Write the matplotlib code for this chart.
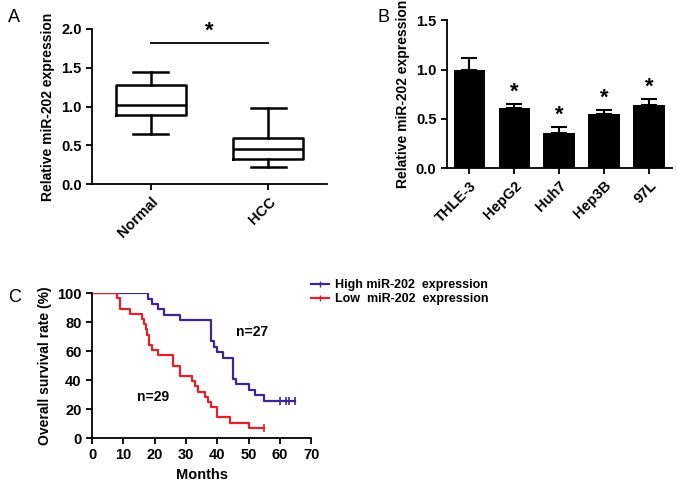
import matplotlib.pyplot as plt
from matplotlib.lines import Line2D

plt.rcParams['font.family'] = ['Liberation Sans', 'DejaVu Sans']
plt.rcParams['font.weight'] = 'bold'
plt.rcParams['axes.labelweight'] = 'bold'
plt.rcParams['axes.linewidth'] = 1.3

# panel A: box plot
box_groups = ['Normal', 'HCC']
box_low = [0.65, 0.22]
box_q1 = [0.89, 0.32]
box_med = [1.02, 0.45]
box_q3 = [1.28, 0.59]
box_high = [1.45, 0.98]

# panel B: bar chart
cell_lines = ['THLE-3', 'HepG2', 'Huh7', 'Hep3B', '97L']
cell_expr = [1.00, 0.61, 0.36, 0.55, 0.64]
cell_err = [0.12, 0.04, 0.06, 0.04, 0.06]
cell_sig = [False, True, True, True, True]

# panel C: survival curves
high_t = [0, 18, 19, 21, 23, 28, 38, 39, 40, 42, 45, 46, 50, 52, 55, 65]
high_s = [100, 96.3, 92.6, 88.9, 85.2, 81.5, 66.7, 63.0, 59.3, 55.6, 40.7, 37.0, 33.3, 29.6, 25.9, 25.9]
high_cens = [60, 62, 63, 65]
low_t = [0, 8, 9, 12, 16, 16.6, 17.2, 17.7, 18.2, 19, 21, 26, 28, 32, 33, 34, 36, 37, 38, 40, 44, 50, 55]
low_s = [100, 96.4, 89.3, 85.7, 82.1, 78.6, 75.0, 71.4, 64.3, 60.7, 57.1, 50.0, 42.9, 39.3, 35.7, 32.1,
         28.6, 25.0, 21.4, 14.3, 10.7, 7.1, 7.1]
low_cens = [55]

fig = plt.figure(figsize=(6.77, 4.83), dpi=100)

def style(ax):
    ax.spines['top'].set_visible(False)
    ax.spines['right'].set_visible(False)
    ax.tick_params(width=1.3, length=4, labelsize=10.5)

# ---- A
axA = fig.add_axes([0.136, 0.619, 0.347, 0.321])
stats = []
for i in range(len(box_groups)):
    stats.append(dict(med=box_med[i], q1=box_q1[i], q3=box_q3[i],
                      whislo=box_low[i], whishi=box_high[i], label=box_groups[i]))
lp = dict(color='black', linewidth=1.8)
axA.bxp(stats, positions=[1, 2], widths=0.6, showfliers=False,
        boxprops=lp, whiskerprops=lp, capprops=lp, medianprops=lp)
axA.set_xlim(0.5, 2.5)
axA.set_ylim(0, 2.0)
axA.set_yticks([0, 0.5, 1.0, 1.5, 2.0])
axA.set_yticklabels(['0.0', '0.5', '1.0', '1.5', '2.0'])
axA.set_xticks([1, 2])
axA.set_xticklabels(box_groups, rotation=45, ha='right', rotation_mode='anchor')
axA.set_ylabel('Relative miR-202 expression', fontsize=10)
axA.plot([1, 2], [1.82, 1.82], color='black', lw=1.3)
axA.text(1.5, 1.83, '*', ha='center', va='bottom', fontsize=16)
style(axA)
fig.text(0.012, 0.955, 'A', fontsize=13, fontweight='normal')

# ---- B
axB = fig.add_axes([0.660, 0.652, 0.332, 0.306])
xb = list(range(len(cell_lines)))
axB.bar(xb, cell_expr, width=0.7, color='black')
axB.errorbar(xb, cell_expr, yerr=[[0] * len(cell_err), cell_err], fmt='none',
             ecolor='black', elinewidth=1.5, capsize=6, capthick=1.5)
for i in xb:
    if cell_sig[i]:
        axB.text(i, cell_expr[i] + cell_err[i] + 0.01, '*', ha='center', va='bottom', fontsize=16)
axB.set_xlim(-0.5, 4.5)
axB.set_ylim(0, 1.5)
axB.set_yticks([0, 0.5, 1.0, 1.5])
axB.set_yticklabels(['0.0', '0.5', '1.0', '1.5'])
axB.set_xticks(xb)
axB.set_xticklabels(cell_lines, rotation=45, ha='right', rotation_mode='anchor')
axB.set_ylabel('Relative miR-202 expression', fontsize=10)
style(axB)
fig.text(0.558, 0.955, 'B', fontsize=13, fontweight='normal')

# ---- C
axC = fig.add_axes([0.136, 0.093, 0.3235, 0.300])
high_col = '#3d2596'
low_col = '#e5202a'
axC.step(high_t, high_s, where='post', color=high_col, lw=1.6)
axC.step(low_t, low_s, where='post', color=low_col, lw=1.6)
axC.plot(high_cens, [high_s[-1]] * len(high_cens), ls='none', marker='|',
         color=high_col, markersize=6, mew=1.2)
axC.plot(low_cens, [low_s[-1]] * len(low_cens), ls='none', marker='|',
         color=low_col, markersize=6, mew=1.2)
axC.text(51, 73, 'n=27', ha='center', va='center', fontsize=10)
axC.text(19.5, 28.5, 'n=29', ha='center', va='center', fontsize=10)
axC.set_xlim(0, 70)
axC.set_ylim(0, 100)
axC.set_xticks(range(0, 71, 10))
axC.set_yticks(range(0, 101, 20))
axC.set_xlabel('Months', fontsize=10.5)
axC.set_ylabel('Overall survival rate (%)', fontsize=10)
style(axC)
fig.text(0.012, 0.375, 'C', fontsize=13, fontweight='normal')

handles = [Line2D([], [], color=high_col, lw=1.6, marker='|', markersize=5),
           Line2D([], [], color=low_col, lw=1.6, marker='|', markersize=5)]
fig.legend(handles, ['High miR-202  expression', 'Low  miR-202  expression'],
           loc='upper left', bbox_to_anchor=(0.452, 0.432), frameon=False,
           fontsize=9, handlelength=1.4, labelspacing=0.15, handletextpad=0.5,
           borderaxespad=0)

fig.savefig('out.png', dpi=100)
